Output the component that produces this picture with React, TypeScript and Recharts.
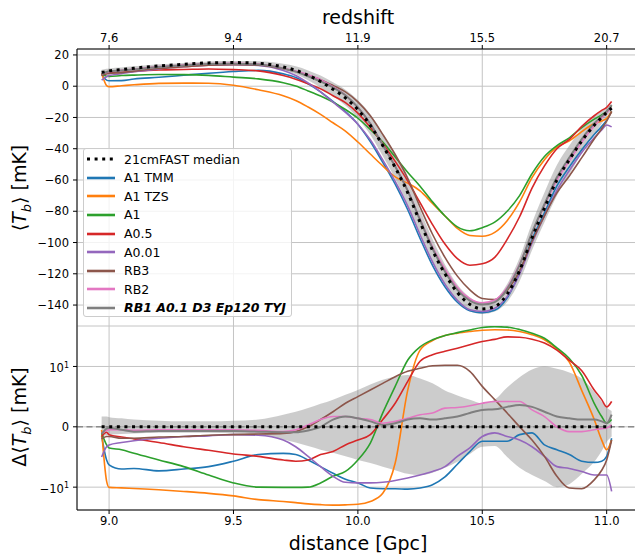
import {
  Area,
  CartesianGrid,
  ComposedChart,
  Line,
  ReferenceLine,
  XAxis,
  YAxis,
} from "recharts";

const FONT = "'DejaVu Sans', sans-serif";

// comoving distance [Gpc] of the samples
const distance = [
  8.97, 8.99, 9.0, 9.05, 9.1, 9.2, 9.3, 9.4, 9.5, 9.6, 9.7, 9.75, 9.8, 9.85,
  9.9, 9.95, 10.0, 10.05, 10.1, 10.15, 10.2, 10.25, 10.3, 10.35, 10.4, 10.45,
  10.5, 10.55, 10.6, 10.65, 10.7, 10.75, 10.8, 10.85, 10.9, 10.95, 10.98, 11.0,
  11.02,
];

// top axis: distance positions and the redshift shown there
const distanceTicks = [9.0, 9.5, 10.0, 10.5, 11.0];
const redshiftLabels = ["7.6", "9.4", "11.9", "15.5", "20.7"];

const tbTicks = [20, 0, -20, -40, -60, -80, -100, -120, -140];
const deltaTicks = [-10, 0, 10];

// 21cmFAST median <Tb> [mK]
const median = [
  8.9, 9.4, 9.8, 10.6, 11.5, 13.0, 14.0, 14.9, 15.1, 14.7, 12.3, 10.2, 7.0,
  3.0, -2.0, -7.5, -15, -25, -38, -52, -68, -87, -105, -120, -132, -139.5,
  -142.5, -141, -133, -118, -97, -78, -60, -47, -35, -25, -20, -16.8, -14,
];

// spread around the median (as a difference) [mK]
const bandLow = [
  -1.5, -1.4, -1.3, -1.2, -1.1, -1.0, -1.0, -1.0, -1.1, -1.3, -2.1, -2.6,
  -3.2, -3.8, -4.3, -4.9, -5.5, -6.0, -6.6, -7.2, -7.8, -8.0, -7.6, -6.8,
  -5.8, -4.5, -3.3, -3.2, -5.0, -6.8, -8.0, -9.0, -10.0, -9.5, -7.8, -5.8,
  -4.0, -2.5, -1.6,
];
const bandHigh = [
  1.7, 1.7, 1.6, 1.4, 1.2, 1.0, 0.9, 0.9, 1.0, 1.2, 2.0, 2.5, 3.1, 3.8, 4.5,
  5.3, 6.1, 7.0, 7.8, 8.3, 8.6, 8.0, 7.2, 6.0, 5.2, 4.5, 3.9, 4.5, 6.5, 8.2,
  9.5, 10.0, 9.6, 9.0, 8.0, 5.8, 4.2, 3.2, 2.6,
];

// difference of each model to the median [mK]
const dA1Tmm = [
  -1.5, -5.5, -6.3, -7.0, -6.9, -7.3, -7.0, -6.6, -5.7, -4.6, -4.4, -4.6,
  -5.5, -6.6, -7.7, -8.7, -9.3, -10.4, -10.7, -10.7, -10.9, -10.4, -9.6, -8.3,
  -6.2, -4.1, -2.4, -2.4, -2.4, -1.3, -1.0, -3.0, -3.8, -4.6, -5.7, -5.9,
  -5.7, -4.9, -1.9,
];
const dA1Tzs = [
  -0.5, -9.0, -10.1, -10.3, -10.6, -11.2, -12.0, -13.0, -14.5, -17.0, -18.4,
  -19.3, -20.3, -21.0, -21.4, -21.2, -20.7, -18.4, -13.0, -6.0, 6.0, 20, 30,
  37, 41, 44, 46.5, 47.5, 47, 44, 38.5, 31, 21, 12, 6.0, 1.2, -2.2, -3.8, -2.2,
];
const dA1 = [
  -1.0, -3.0, -3.5, -3.8, -4.4, -5.5, -6.6, -8.0, -9.3, -10.0, -10.1, -10.1,
  -10.0, -9.3, -8.2, -7.4, -5.5, -2.7, 2.3, 6.7, 13, 23, 31, 37, 42, 47, 52,
  54, 53, 48, 41, 33, 22, 14, 8.5, 3.9, 1.7, 0.6, 1.2,
];
const dA05 = [
  -1.6, -0.9, -1.3, -1.7, -2.0, -2.6, -3.3, -3.9, -4.5, -4.9, -5.5, -5.7,
  -5.5, -4.6, -4.1, -3.0, -2.2, -1.3, 1.2, 3.9, 7.5, 12.5, 16.5, 19, 21.7, 25,
  28.9, 31.5, 35, 34.5, 31.8, 27, 20, 13, 9.3, 6.1, 4.5, 3.3, 4.2,
];
const dA001 = [
  -5.0, -3.3, -3.0, -2.6, -2.3, -1.9, -1.6, -1.5, -1.3, -1.4, -2.2, -3.3,
  -4.9, -6.6, -8.2, -9.2, -9.3, -9.3, -9.2, -8.9, -8.5, -8.0, -7.4, -6.6,
  -4.9, -3.5, -1.6, -1.0, -1.6, -2.2, -3.3, -4.9, -6.6, -6.9, -7.4, -8.0,
  -8.0, -8.0, -12.0,
];
const dRb3 = [
  -2.0, -1.6, -1.6, -1.9, -1.9, -1.7, -1.6, -1.4, -1.3, -1.2, -1.1, -0.8, 0.0,
  1.2, 2.5, 3.9, 5.0, 6.1, 7.2, 8.3, 9.2, 9.7, 10.3, 10.5, 10.5, 9.2, 6.7, 4.5,
  2.3, 0.0, -2.2, -4.9, -8.2, -10.4, -10.7, -8.8, -7.2, -5.5, -2.2,
];
const dRb2 = [
  -1.0, -0.6, -0.5, -0.5, -0.6, -0.5, -0.5, -0.5, -0.5, -0.6, -0.8, -0.5, 0.3,
  1.2, 1.7, 1.7, 1.4, 1.2, 0.6, 0.9, 1.4, 2.0, 2.3, 3.1, 3.2, 3.5, 3.9, 4.2,
  4.2, 4.2, 2.8, 1.7, 0.0, -0.8, -0.8, -0.5, -0.3, -0.2, 0.3,
];
const dRb1 = [
  -1.2, -0.3, -0.2, -0.5, -0.8, -0.7, -0.7, -0.7, -0.7, -0.8, -0.9, -0.9,
  -0.6, 0.0, 1.2, 1.7, 1.4, 0.9, 0.3, 0.6, 1.2, 1.4, 1.2, 1.4, 1.7, 2.3, 2.8,
  2.9, 3.3, 3.6, 3.3, 2.5, 1.7, 1.4, 1.2, 1.2, 0.9, 0.6, 2.0,
];

const models = [
  { key: "a1tmm", name: "A1 TMM", color: "#1f77b4", diff: dA1Tmm },
  { key: "a1tzs", name: "A1 TZS", color: "#ff7f0e", diff: dA1Tzs },
  { key: "a1", name: "A1", color: "#2ca02c", diff: dA1 },
  { key: "a05", name: "A0.5", color: "#d62728", diff: dA05 },
  { key: "a001", name: "A0.01", color: "#9467bd", diff: dA001 },
  { key: "rb3", name: "RB3", color: "#8c564b", diff: dRb3 },
  { key: "rb2", name: "RB2", color: "#e377c2", diff: dRb2 },
  { key: "rb1", name: "RB1 A0.1 D3 Ep120 TYJ", color: "#7f7f7f", diff: dRb1 },
];

// matplotlib-style symlog, linthresh 10, linscale 1 (one unit per decade)
const LINTHRESH = 10;
const LINSCALE = 1 / (1 - 1 / 10);
const symlog = (v: number) =>
  Math.abs(v) <= LINTHRESH
    ? (v / LINTHRESH) * LINSCALE
    : Math.sign(v) * (LINSCALE + Math.log10(Math.abs(v) / LINTHRESH));

const topData = distance.map((d, i) => {
  const row: any = {
    d,
    median: median[i],
    band: [median[i] + bandLow[i], median[i] + bandHigh[i]],
  };
  models.forEach((m) => (row[m.key] = median[i] + m.diff[i]));
  return row;
});

const bottomData = distance.map((d, i) => {
  const row: any = {
    d,
    zero: 0,
    band: [symlog(bandLow[i]), symlog(bandHigh[i])],
  };
  models.forEach((m) => (row[m.key] = symlog(m.diff[i])));
  return row;
});

const X_DOMAIN = [8.871, 11.13];
const tickStyle = { fontSize: 11.5, fill: "#000", fontFamily: FONT };
const minus = (v: number) => (v < 0 ? "\u2212" + Math.abs(v) : String(v));

function SymlogTick(props: any) {
  const { x, y, payload } = props;
  const v = deltaTicks[payload.index] ?? 0;
  if (v === 0) {
    return (
      <text x={x} y={y} dy="0.36em" textAnchor="end" style={tickStyle}>
        0
      </text>
    );
  }
  return (
    <text x={x} y={y} dy="0.5em" textAnchor="end" style={tickStyle}>
      {minus(Math.sign(v) * 10)}
      <tspan dy="-0.55em" fontSize={8}>
        {Math.round(Math.log10(Math.abs(v)))}
      </tspan>
    </text>
  );
}

function Legend() {
  const rows = [
    { name: "21cmFAST median", color: "#000", dotted: true },
    ...models.map((m) => ({ name: m.name, color: m.color, dotted: false })),
  ];
  return (
    <div
      style={{
        position: "absolute",
        left: 83,
        top: 148,
        width: 209,
        height: 169,
        background: "rgba(255,255,255,0.8)",
        border: "1px solid #cccccc",
        borderRadius: 3,
        boxSizing: "border-box",
      }}
    >
      {rows.map((r, i) => (
        <div
          key={r.name}
          style={{
            position: "absolute",
            left: 0,
            top: 10.3 + i * 18.55 - 9,
            height: 18,
            display: "flex",
            alignItems: "center",
          }}
        >
          <svg width={40} height={18} style={{ display: "block" }}>
            <line
              x1={3}
              x2={31}
              y1={9}
              y2={9}
              stroke={r.color}
              strokeWidth={r.dotted ? 3 : 2.6}
              strokeDasharray={r.dotted ? "3 4.6" : undefined}
            />
          </svg>
          <span
            style={{
              fontFamily: FONT,
              fontSize: 12.5,
              whiteSpace: "nowrap",
              fontWeight: i === rows.length - 1 ? "bold" : "normal",
              fontStyle: i === rows.length - 1 ? "italic" : "normal",
            }}
          >
            {r.name}
          </span>
        </div>
      ))}
    </div>
  );
}

const labelStyle: any = {
  position: "absolute",
  fontFamily: FONT,
  fontSize: 19,
  whiteSpace: "nowrap",
  transform: "translate(-50%, -50%)",
};

export default function App() {
  return (
    <div
      style={{
        position: "fixed",
        left: 0,
        top: 0,
        width: 635,
        height: 555,
        overflow: "hidden",
        background: "#fff",
      }}
    >
      <div style={{ position: "absolute", left: 0, top: 0 }}>
        <ComposedChart
          width={650}
          height={326}
          data={topData}
          margin={{ top: 19, right: 11, bottom: 0, left: 0 }}
        >
          <CartesianGrid stroke="#c4c4c4" strokeWidth={1} />
          <XAxis
            dataKey="d"
            type="number"
            orientation="top"
            domain={X_DOMAIN}
            allowDataOverflow
            ticks={distanceTicks}
            interval={0}
            height={30}
            tickSize={4}
            tickMargin={3}
            tick={tickStyle}
            tickFormatter={(v: number) =>
              redshiftLabels[distanceTicks.indexOf(v)] ?? ""
            }
            axisLine={{ stroke: "#000" }}
            tickLine={{ stroke: "#000" }}
          />
          <XAxis
            xAxisId="frame"
            type="number"
            orientation="bottom"
            domain={X_DOMAIN}
            height={0}
            tick={false}
            tickLine={false}
            axisLine={{ stroke: "#000" }}
          />
          <YAxis
            type="number"
            domain={[-153.4, 23.8]}
            allowDataOverflow
            ticks={tbTicks}
            interval={0}
            width={77}
            tickSize={4}
            tickMargin={4}
            tick={tickStyle}
            tickFormatter={minus}
            axisLine={{ stroke: "#000" }}
            tickLine={{ stroke: "#000" }}
          />
          <Area
            dataKey="band"
            type="monotone"
            fill="#808080"
            fillOpacity={0.4}
            stroke="none"
            isAnimationActive={false}
          />
          {models.map((m) => (
            <Line
              key={m.key}
              dataKey={m.key}
              type="monotone"
              stroke={m.color}
              strokeWidth={m.key === "rb1" ? 2 : 1.6}
              dot={false}
              isAnimationActive={false}
            />
          ))}
          <Line
            dataKey="median"
            type="monotone"
            stroke="#000"
            strokeWidth={3}
            strokeDasharray="3 4.6"
            dot={false}
            isAnimationActive={false}
          />
        </ComposedChart>
      </div>

      <div style={{ position: "absolute", left: 0, top: 326 }}>
        <ComposedChart
          width={650}
          height={229}
          data={bottomData}
          margin={{ top: 0, right: 11, bottom: 0, left: 0 }}
        >
          <CartesianGrid stroke="#c4c4c4" strokeWidth={1} />
          <XAxis
            dataKey="d"
            type="number"
            domain={X_DOMAIN}
            allowDataOverflow
            ticks={distanceTicks}
            interval={0}
            height={45}
            tickSize={4}
            tickMargin={3}
            tick={tickStyle}
            tickFormatter={(v: number) => v.toFixed(1)}
            axisLine={{ stroke: "#000" }}
            tickLine={{ stroke: "#000" }}
          />
          <YAxis
            type="number"
            domain={[-1.532, 1.856]}
            allowDataOverflow
            ticks={deltaTicks.map(symlog)}
            interval={0}
            width={77}
            tickSize={4}
            tickMargin={4}
            tick={<SymlogTick />}
            axisLine={{ stroke: "#000" }}
            tickLine={{ stroke: "#000" }}
          />
          <Area
            dataKey="band"
            type="monotone"
            fill="#808080"
            fillOpacity={0.4}
            stroke="none"
            isAnimationActive={false}
          />
          <ReferenceLine
            y={0}
            stroke="#8c8c8c"
            strokeWidth={1.5}
            strokeDasharray="6 3.5"
          />
          {models.map((m) => (
            <Line
              key={m.key}
              dataKey={m.key}
              type="monotone"
              stroke={m.color}
              strokeWidth={m.key === "rb1" ? 2 : 1.6}
              dot={false}
              isAnimationActive={false}
            />
          ))}
          <Line
            dataKey="zero"
            type="linear"
            stroke="#000"
            strokeWidth={3}
            strokeDasharray="3 4.6"
            dot={false}
            isAnimationActive={false}
          />
        </ComposedChart>
      </div>

      <div style={{ ...labelStyle, left: 358, top: 17 }}>redshift</div>
      <div style={{ ...labelStyle, left: 358, top: 543 }}>distance [Gpc]</div>
      <div
        style={{
          ...labelStyle,
          left: 21,
          top: 187.5,
          transform: "translate(-50%, -50%) rotate(-90deg)",
        }}
      >
        ⟨<i>T</i>
        <sub style={{ fontSize: 13, fontStyle: "italic" }}>b</sub>⟩ [mK]
      </div>
      <div
        style={{
          ...labelStyle,
          left: 21,
          top: 417,
          transform: "translate(-50%, -50%) rotate(-90deg)",
        }}
      >
        Δ⟨<i>T</i>
        <sub style={{ fontSize: 13, fontStyle: "italic" }}>b</sub>⟩ [mK]
      </div>

      <Legend />
    </div>
  );
}
